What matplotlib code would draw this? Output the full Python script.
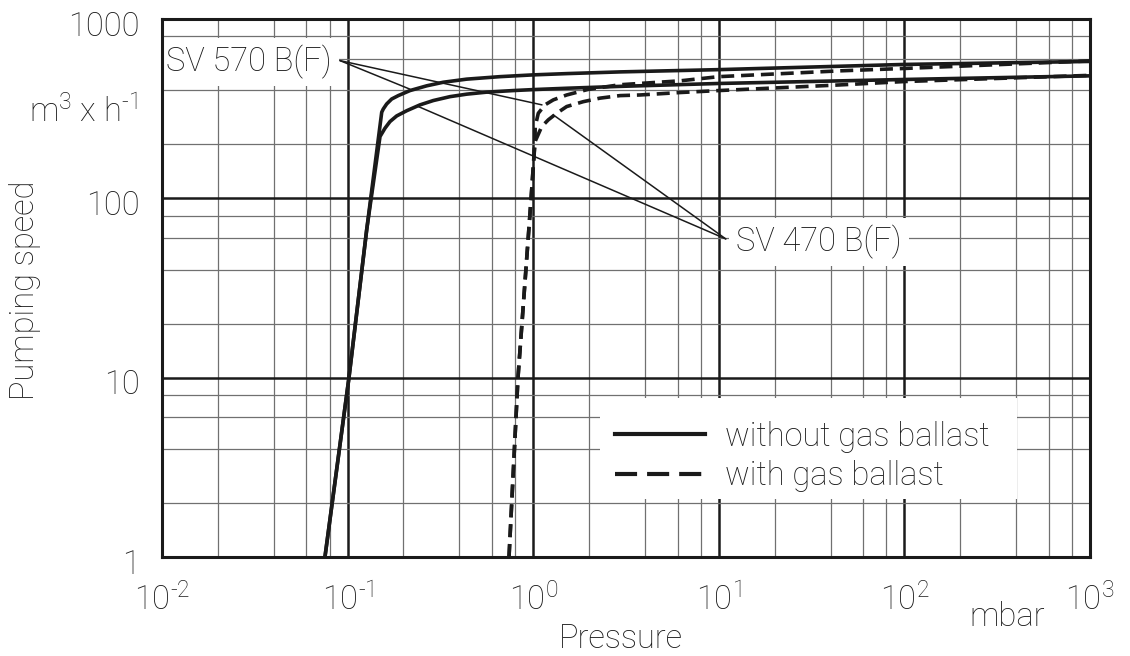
import matplotlib
matplotlib.use('Agg')
import matplotlib.pyplot as plt
import matplotlib.transforms as mtransforms
from matplotlib.ticker import LogLocator, NullFormatter
from matplotlib.patches import Rectangle
from matplotlib.lines import Line2D

plt.rcParams['font.family'] = ['Roboto', 'DejaVu Sans']
plt.rcParams['font.weight'] = 'light'
plt.rcParams['mathtext.fontset'] = 'custom'
plt.rcParams['mathtext.rm'] = 'Roboto:light'
plt.rcParams['mathtext.it'] = 'Roboto:light'
plt.rcParams['mathtext.bf'] = 'Roboto'

# ---------------- data (pressure in mbar, pumping speed in m3/h) ----------------
sv570_p = [0.0755, 0.1017, 0.1267, 0.1527, 0.1557, 0.1624, 0.1728, 0.1876, 0.2169,
           0.2668, 0.3279, 0.4383, 0.6624, 1.0, 1.515, 2.936, 10, 100, 1000]
sv570_s = [1, 10, 66.7, 302, 315, 336, 358, 374, 399,
           424, 444, 462, 477, 488, 496, 507, 522, 558, 580]

sv470_p = [0.0755, 0.1017, 0.1267, 0.1495, 0.1590, 0.1692, 0.1838, 0.2082, 0.2455,
           0.2895, 0.3562, 0.4383, 0.5615, 0.781, 1.0, 1.515, 2.936, 10, 100, 1000]
sv470_s = [1, 10, 66.7, 221, 246, 268, 288, 308, 332,
           351, 369, 381, 391, 399, 404, 411, 421, 437, 460, 482]

sv570_gb_p = [0.7408, 0.828, 0.973, 1.023, 1.025, 1.065, 1.157, 1.283, 1.515,
              1.974, 2.936, 6.18, 10, 45, 100, 1000]
sv570_gb_s = [1, 10, 98, 212, 251, 298, 332, 354, 377,
              405, 430, 452, 477, 514, 530, 584]

sv470_gb_p = [0.7408, 0.828, 0.973, 1.023, 1.111, 1.206, 1.338, 1.515, 1.862,
              2.291, 2.936, 3.76, 6.18, 10, 45, 100, 1000]
sv470_gb_s = [1, 10, 98, 207, 251, 274, 298, 325, 346,
              362, 374, 377, 389, 399, 429, 448, 485]

x_ticks = [1e-2, 1e-1, 1e0, 1e1, 1e2, 1e3]
x_ticklabels = [r'$\mathregular{10^{\text{-}2}}$', r'$\mathregular{10^{\text{-}1}}$',
                r'$\mathregular{10^{0}}$', r'$\mathregular{10^{1}}$',
                r'$\mathregular{10^{2}}$', r'$\mathregular{10^{3}}$']
y_ticks = [1, 10, 100, 1000]
y_ticklabels = ['1', '10', '100', '1000']

legend_labels = ['without gas ballast', 'with gas ballast']
model_labels = ['SV 570 B(F)', 'SV 470 B(F)']

# ---------------- figure ----------------
W, H = 1130, 656
fig = plt.figure(figsize=(W / 100, H / 100), dpi=100)
ax = fig.add_axes([162 / W, 1 - 557 / H, (1090 - 162) / W, (557 - 19) / H])
ax.set_xscale('log')
ax.set_yscale('log')
ax.set_xlim(1e-2, 1e3)
ax.set_ylim(1, 1000)

ink = '#1a1a1a'
FS = 23.5

ax.xaxis.set_minor_locator(LogLocator(base=10, subs=[2, 4, 6, 8], numticks=50))
ax.yaxis.set_minor_locator(LogLocator(base=10, subs=[2, 4, 6, 8], numticks=50))
ax.xaxis.set_minor_formatter(NullFormatter())
ax.yaxis.set_minor_formatter(NullFormatter())
ax.set_xticks(x_ticks, labels=x_ticklabels)
ax.set_yticks(y_ticks, labels=y_ticklabels)
ax.tick_params(which='both', length=0)
ax.tick_params(axis='x', pad=19, labelsize=FS, colors=ink)
ax.tick_params(axis='y', pad=16, labelsize=FS, colors=ink)
shift = mtransforms.ScaledTranslation(0, -4 / 100, fig.dpi_scale_trans)
for lab in ax.get_yticklabels():
    lab.set_transform(lab.get_transform() + shift)

ax.set_axisbelow(True)
ax.grid(which='major', color=ink, lw=1.8)
ax.grid(which='minor', color='#707070', lw=0.9)
for sp in ax.spines.values():
    sp.set_linewidth(2.2)
    sp.set_color(ink)

lw = 2.6
dash = (3.6, 1.9)
ax.plot(sv570_p, sv570_s, color=ink, lw=lw, solid_joinstyle='round', zorder=2)
ax.plot(sv470_p, sv470_s, color=ink, lw=lw, solid_joinstyle='round', zorder=2)
ax.plot(sv570_gb_p, sv570_gb_s, color=ink, lw=lw, dashes=dash, zorder=2)
ax.plot(sv470_gb_p, sv470_gb_s, color=ink, lw=lw, dashes=dash, zorder=2)

# model labels with leader lines
ax.text(0.0294, 573, model_labels[0], fontsize=FS, ha='center', va='center', color=ink,
        bbox=dict(facecolor='white', edgecolor='none', pad=5), zorder=2.3)
ax.text(34.7, 56.8, model_labels[1], fontsize=FS, ha='center', va='center', color=ink,
        bbox=dict(facecolor='white', edgecolor='none', pad=5), zorder=2.3)
for tgt in [(0.2169, 406), (1.115, 332)]:
    ax.annotate('', xy=tgt, xytext=(0.0910, 586),
                arrowprops=dict(arrowstyle='-', lw=1.1, color=ink, shrinkA=0, shrinkB=0))
for tgt in [(0.2404, 325), (1.283, 292)]:
    ax.annotate('', xy=tgt, xytext=(10.9, 59.4),
                arrowprops=dict(arrowstyle='-', lw=1.1, color=ink, shrinkA=0, shrinkB=0))

# legend
ax.add_patch(Rectangle((0.472, 0.1078), 0.4494, 0.1877, transform=ax.transAxes,
                       facecolor='white', edgecolor='none', zorder=2.5))
handles = [Line2D([], [], color=ink, lw=3.0),
           Line2D([], [], color=ink, lw=3.0, dashes=(5.3, 2.4))]
leg = ax.legend(handles, legend_labels, loc='center left', bbox_to_anchor=(0.488, 0.1868),
                frameon=False, fontsize=FS, handlelength=2.76, handletextpad=0.61,
                labelspacing=0.22, borderpad=0, borderaxespad=0)
leg.set_zorder(5)
for t in leg.get_texts():
    t.set_color(ink)

# axis titles
fig.text(25 / W, 1 - 290 / H, 'Pumping speed', rotation=90, ha='center', va='center',
         fontsize=FS, color=ink)
fig.text(137 / W, 1 - 112 / H, r'm$^3$ x h$^{\text{-}1}$', ha='right', va='center',
         fontsize=FS, color=ink)
fig.text(621 / W, 1 - 639 / H, 'Pressure', ha='center', va='center', fontsize=FS, color=ink)
fig.text(1007 / W, 1 - 617 / H, 'mbar', ha='center', va='center', fontsize=FS, color=ink)

fig.savefig('out.png', dpi=100, facecolor='white')
